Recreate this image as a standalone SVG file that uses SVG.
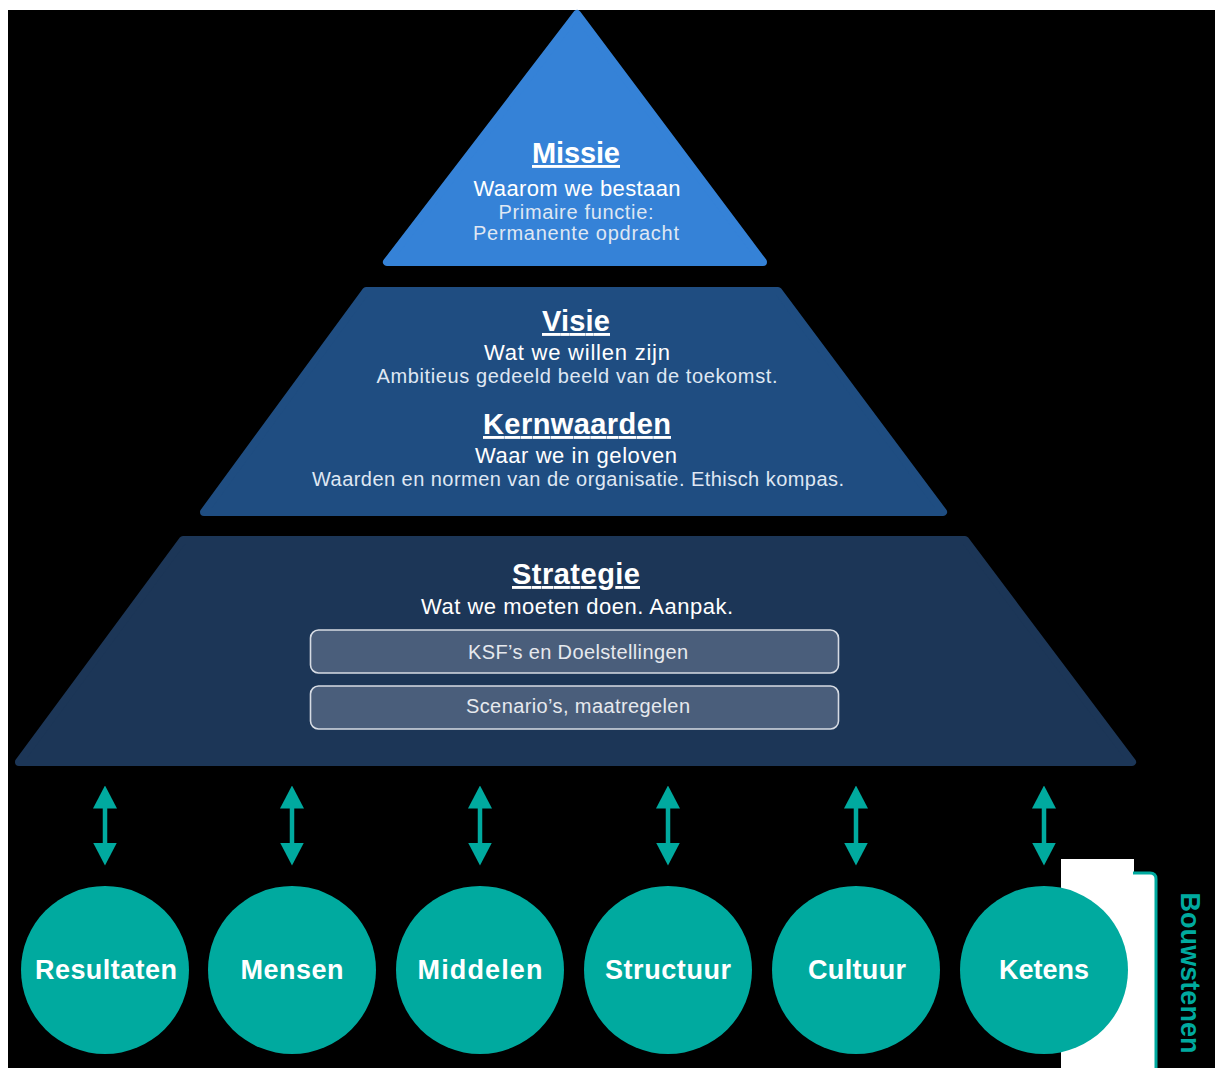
<svg xmlns="http://www.w3.org/2000/svg" width="1215" height="1068" viewBox="0 0 1215 1068">
  <style>
    text { font-family: "Liberation Sans", Arial, sans-serif; fill: #ffffff; text-anchor: middle; }
    .title { font-size: 29px; font-weight: bold; text-decoration: underline; }
    .sub { font-size: 22px; }
    .desc { font-size: 20px; fill: #dfe7f3; }
    .box { fill: #4a5e7b; stroke: #d6dbe3; stroke-width: 1.6; }
    .boxtxt { font-size: 20px; fill: #e6e9ee; }
    .circle { fill: #00aa9f; }
    .clabel { font-size: 27px; font-weight: bold; }
    .conn { stroke: #00aa9f; stroke-width: 4.5; fill: none; marker-start: url(#arrow); marker-end: url(#arrow); }
  </style>
  <defs>
    <marker id="arrow" viewBox="0 0 23 24" refX="0.5" refY="12" markerWidth="23" markerHeight="24" markerUnits="userSpaceOnUse" orient="auto-start-reverse">
      <path d="M0,0 L23,12 L0,24 Z" fill="#00aa9f"/>
    </marker>
  </defs>

  <rect x="0" y="0" width="1215" height="1068" fill="#ffffff"/>
  <rect x="8" y="10" width="1207" height="1058" fill="#000000"/>

  <!-- Bouwstenen bracket -->
  <g id="bouwstenen">
    <rect x="1061" y="859" width="73" height="209" fill="#ffffff"/>
    <path d="M1133,873 H1150 Q1156,873 1156,879 V1068 H1133 Z" fill="#ffffff"/>
    <path d="M1133,873 H1150 Q1156,873 1156,879 V1068" fill="none" stroke="#00aa9f" stroke-width="3"/>
    <text transform="translate(1190,973) rotate(90)" dominant-baseline="central" style="font-size:27px;font-weight:bold;fill:#00aa9f" textLength="161">Bouwstenen</text>
  </g>

  <!-- Missie -->
  <g id="missie">
    <path d="M577,14 L387,262 L763,262 Z" fill="#3582d7" stroke="#3582d7" stroke-width="8" stroke-linejoin="round"/>
    <text class="title" x="576" y="163" textLength="88">Missie</text>
    <text class="sub" x="577" y="196" textLength="207">Waarom we bestaan</text>
    <text class="desc" x="576" y="219" textLength="155">Primaire functie:</text>
    <text class="desc" x="576" y="240" textLength="206">Permanente opdracht</text>
  </g>

  <!-- Visie / Kernwaarden -->
  <g id="visie">
    <path d="M366,291 L778,291 L943,512 L204,512 Z" fill="#1f4d81" stroke="#1f4d81" stroke-width="8" stroke-linejoin="round"/>
    <text class="title" x="576" y="331" textLength="68">Visie</text>
    <text class="sub" x="577" y="360" textLength="186">Wat we willen zijn</text>
    <text class="desc" x="577" y="383" textLength="401">Ambitieus gedeeld beeld van de toekomst.</text>
  </g>
  <g id="kernwaarden">
    <text class="title" x="577" y="434" textLength="188">Kernwaarden</text>
    <text class="sub" x="576" y="463" textLength="202">Waar we in geloven</text>
    <text class="desc" x="578" y="486" textLength="532">Waarden en normen van de organisatie. Ethisch kompas.</text>
  </g>

  <!-- Strategie -->
  <g id="strategie">
    <path d="M183,540 L965,540 L1132,762 L19,762 Z" fill="#1c3657" stroke="#1c3657" stroke-width="8" stroke-linejoin="round"/>
    <text class="title" x="576" y="584" textLength="128">Strategie</text>
    <text class="sub" x="577" y="614" textLength="312">Wat we moeten doen. Aanpak.</text>
  </g>
  <g id="ksf">
    <rect class="box" x="310.5" y="630" width="528" height="43" rx="8"/>
    <text class="boxtxt" x="578" y="659" textLength="220">KSF’s en Doelstellingen</text>
  </g>
  <g id="scenarios">
    <rect class="box" x="310.5" y="686" width="528" height="43" rx="8"/>
    <text class="boxtxt" x="578" y="713" textLength="224">Scenario’s, maatregelen</text>
  </g>

  <!-- Connectors -->
  <g id="connectors">
    <line class="conn" x1="105" y1="808" x2="105" y2="843"/>
    <line class="conn" x1="292" y1="808" x2="292" y2="843"/>
    <line class="conn" x1="480" y1="808" x2="480" y2="843"/>
    <line class="conn" x1="668" y1="808" x2="668" y2="843"/>
    <line class="conn" x1="856" y1="808" x2="856" y2="843"/>
    <line class="conn" x1="1044" y1="808" x2="1044" y2="843"/>
  </g>

  <!-- Circles -->
  <g id="resultaten">
    <circle class="circle" cx="105" cy="970" r="84"/>
    <text class="clabel" x="106" y="979" textLength="142">Resultaten</text>
  </g>
  <g id="mensen">
    <circle class="circle" cx="292" cy="970" r="84"/>
    <text class="clabel" x="292" y="979" textLength="103">Mensen</text>
  </g>
  <g id="middelen">
    <circle class="circle" cx="480" cy="970" r="84"/>
    <text class="clabel" x="480" y="979" textLength="125">Middelen</text>
  </g>
  <g id="structuur">
    <circle class="circle" cx="668" cy="970" r="84"/>
    <text class="clabel" x="668" y="979" textLength="126">Structuur</text>
  </g>
  <g id="cultuur">
    <circle class="circle" cx="856" cy="970" r="84"/>
    <text class="clabel" x="857" y="979" textLength="98">Cultuur</text>
  </g>
  <g id="ketens">
    <circle class="circle" cx="1044" cy="970" r="84"/>
    <text class="clabel" x="1044" y="979" textLength="90">Ketens</text>
  </g>
</svg>
